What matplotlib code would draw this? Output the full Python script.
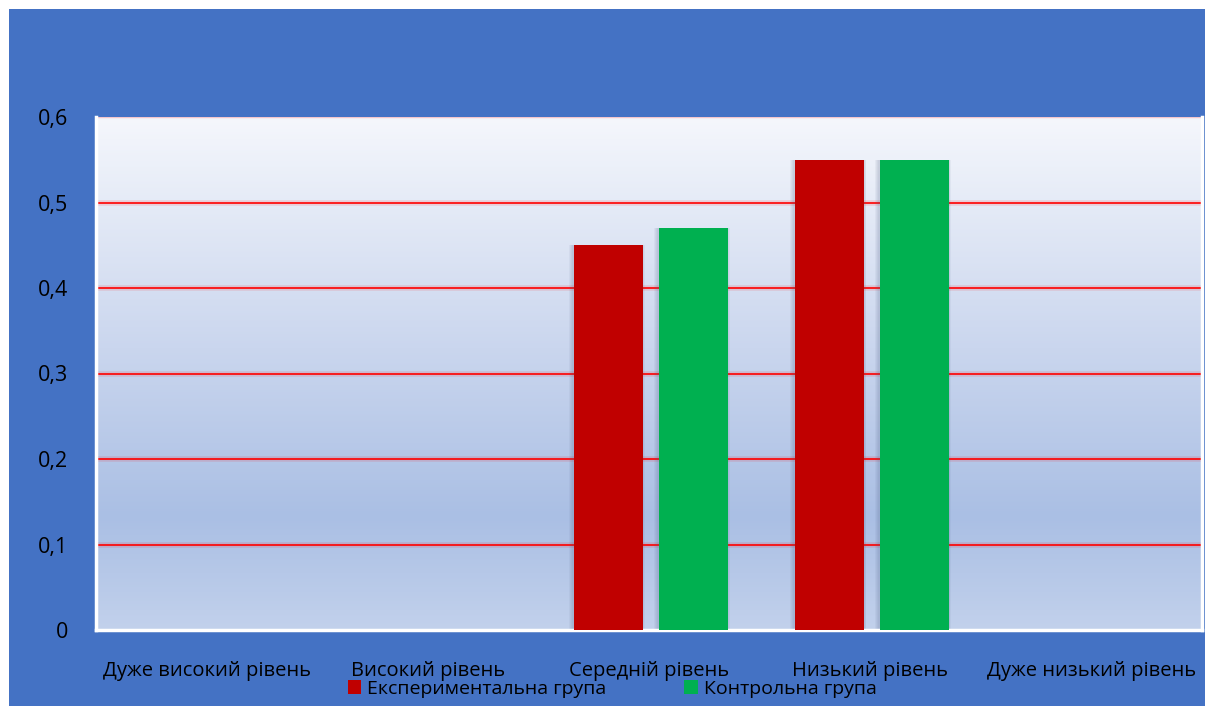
import numpy as np
import matplotlib
matplotlib.use("Agg")
import matplotlib.pyplot as plt
from matplotlib.patches import Rectangle
from matplotlib.colors import LinearSegmentedColormap
from matplotlib.ticker import FuncFormatter

categories = ["Дуже високий рівень", "Високий рівень", "Середній рівень",
              "Низький рівень", "Дуже низький рівень"]
series_names = ["Експериментальна група", "Контрольна група"]
experimental = [0, 0, 0.45, 0.55, 0]
control = [0, 0, 0.47, 0.55, 0]
yticks = [0, 0.1, 0.2, 0.3, 0.4, 0.5, 0.6]

W, H = 1209, 706
fig = plt.figure(figsize=(W / 100, H / 100), dpi=100)
fig.patch.set_facecolor("white")
fig.patches.append(Rectangle((9 / W, 0), 1196 / W, 697 / H, transform=fig.transFigure,
                             facecolor="#4472C4", edgecolor="none", zorder=-10))

ax = fig.add_axes([96 / W, (H - 630) / H, (1202 - 96) / W, (630 - 117) / H])
ax.set_xlim(-0.5, len(categories) - 0.5)
ax.set_ylim(0, 0.6)

# gradient background
cmap = LinearSegmentedColormap.from_list(
    "bg", [(0.0, "#C2D1EC"), (0.22, "#AABFE4"), (0.55, "#CAD6EE"), (1.0, "#F5F7FC")])
grad = np.linspace(0, 1, 256).reshape(-1, 1)
ax.imshow(grad, cmap=cmap, aspect="auto", origin="lower",
          extent=[-0.5, len(categories) - 0.5, 0, 0.6], zorder=0)

for y in yticks[1:-1]:
    ax.axhline(y, color="#FF0000", lw=4, alpha=0.12, zorder=1)
    ax.axhline(y, color="#FF0000", lw=1.2, zorder=1.1)
ax.axhline(0.6, color="#F4C6CC", lw=1, zorder=1)

x = np.arange(len(categories))
bw = 0.312
off = 0.192
# soft shadows
for k in range(4):
    d = 0.004 + 0.004 * k
    ax.bar(x - off + 0.003, experimental, bw + d * 2, color="#4A5A80", alpha=0.06, zorder=2, linewidth=0)
    ax.bar(x + off + 0.003, control, bw + d * 2, color="#4A5A80", alpha=0.06, zorder=2, linewidth=0)
ax.bar(x - off + 0.008, experimental, bw, color="#C00000", zorder=3, label=series_names[0], linewidth=0)
ax.bar(x + off + 0.008, control, bw, color="#00B050", zorder=3, label=series_names[1], linewidth=0)

for s in ["left", "bottom", "right"]:
    ax.spines[s].set_color("white")
    ax.spines[s].set_linewidth(2.5)
ax.spines["top"].set_visible(False)

ax.set_yticks(yticks)
ax.yaxis.set_major_formatter(FuncFormatter(lambda v, p: ("%g" % round(v, 1)).replace(".", ",")))
ax.tick_params(axis="y", length=0, pad=20, labelsize=15.5, labelcolor="black")
ax.set_xticks(x)
ax.set_xticklabels(categories)
ax.tick_params(axis="x", length=0, pad=22, labelsize=14.5, labelcolor="black")
for t in ax.get_xticklabels() + ax.get_yticklabels():
    t.set_fontfamily("Open Sans")

leg = fig.legend(loc="center", bbox_to_anchor=(612 / W, 1 - 689 / H), ncol=2, frameon=False,
                 prop={"family": "Open Sans", "size": 14}, handlelength=0.7, handleheight=0.7,
                 handletextpad=0.3, columnspacing=4)

fig.savefig("out.png", dpi=100, facecolor=fig.get_facecolor())
